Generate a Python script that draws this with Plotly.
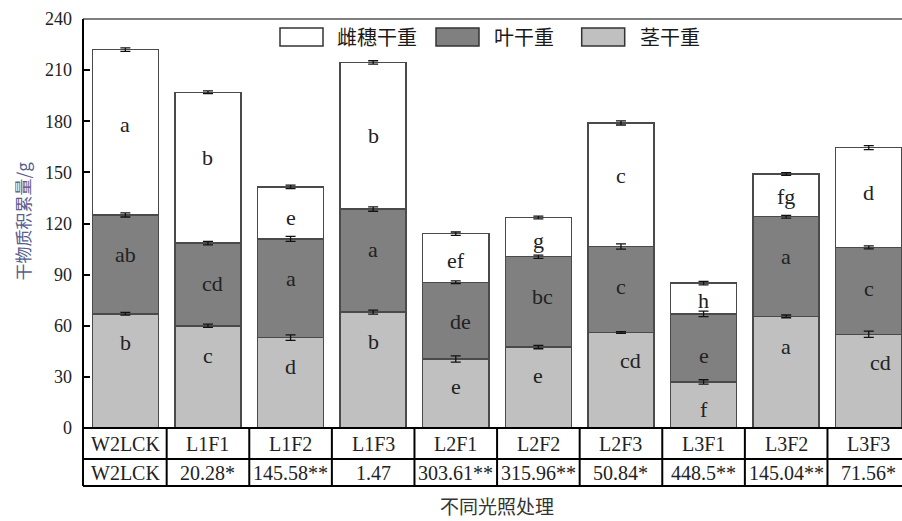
import numpy as np
import plotly.graph_objects as go

# ---- data -------------------------------------------------------------
treatments = ["W2LCK", "L1F1", "L1F2", "L1F3", "L2F1", "L2F2", "L2F3", "L3F1", "L3F2", "L3F3"]
f_values = ["W2LCK", "20.28*", "145.58**", "1.47", "303.61**", "315.96**",
            "50.84*", "448.5**", "145.04**", "71.56*"]

stem = [67, 60, 53, 68, 40.5, 47.5, 56, 27, 65.5, 55]            # 茎干重
leaf = [58, 48.5, 58, 60.5, 45, 53, 50.5, 40, 58.5, 51]          # 叶干重
panicle = [97, 88.5, 30.5, 86, 28.5, 23, 72.5, 18, 25, 58.5]     # 雌穗干重

stem_err = [0.8, 1.0, 1.6, 1.2, 1.8, 1.0, 0.5, 1.3, 0.8, 1.8]
leaf_err = [1.2, 1.0, 1.5, 1.3, 0.8, 1.0, 1.5, 1.6, 0.8, 0.9]
panicle_err = [1.0, 0.8, 1.0, 1.0, 1.0, 0.8, 1.2, 1.0, 0.8, 1.2]

stem_sig = ["b", "c", "d", "b", "e", "e", "cd", "f", "a", "cd"]
leaf_sig = ["ab", "cd", "a", "a", "de", "bc", "c", "e", "a", "c"]
panicle_sig = ["a", "b", "e", "b", "ef", "g", "c", "h", "fg", "d"]

# ---- label placement (value units on the y axis, pixel shifts in x) ----
stem_lab_y = [50.3, 42.6, 36, 51, 24.4, 31, 39.5, 11, 48, 38.4]
leaf_lab_y = [102, 85, 88, 105, 62.4, 77, 83, 42.6, 100.5, 82]
pan_lab_y = [178, 158.5, 123.8, 171.5, 98.3, 110.2, 148, 75, 135.6, 138]
stem_lab_dx = [0, 0, 0, 0, 0, 0, 10, 0, 0, 12]
leaf_lab_dx = [0, 5, 0, 0, 5, 4, 0, 0, 0, 0]
pan_lab_dx = [0, 0, 0, 0, 0, 0, 0, 0, 0, 0]

# ---- geometry ---------------------------------------------------------
W, H = 902, 521
PL, PT, PW, PH = 83, 19, 819, 409
X0 = -0.513
X1 = X0 + PW / 82.6


def px_x(px):
    return (px - PL) / PW


def px_y(py):
    return (PT + PH - py) / PH


def cat_x(v):
    return (v - X0) / (X1 - X0)


SERIF = "Liberation Serif"
CJK = "Noto Sans CJK SC"
TXT = "#222222"
EDGE = "#4a4a4a"

x = list(range(len(treatments)))
stem_a, leaf_a, pan_a = np.array(stem), np.array(leaf), np.array(panicle)
tops = [stem_a, stem_a + leaf_a, stem_a + leaf_a + pan_a]

fig = go.Figure()
for name, vals, col in [("茎干重", stem, "#c0c0c0"),
                        ("叶干重", leaf, "#808080"),
                        ("雌穗干重", panicle, "#ffffff")]:
    fig.add_trace(go.Bar(x=x, y=vals, name=name, width=0.8,
                         marker=dict(color=col, line=dict(color=EDGE, width=1.5)),
                         showlegend=False, hoverinfo="skip"))

# error bars at the top of every stacked segment
for top, err in zip(tops, [stem_err, leaf_err, panicle_err]):
    fig.add_trace(go.Scatter(x=x, y=top, mode="markers",
                             marker=dict(size=1, opacity=0),
                             error_y=dict(type="data", array=err, color="#111111",
                                          thickness=1.3, width=5),
                             showlegend=False, hoverinfo="skip"))

ann = []
# significance letters
for sig, ys, dxs in [(stem_sig, stem_lab_y, stem_lab_dx),
                     (leaf_sig, leaf_lab_y, leaf_lab_dx),
                     (panicle_sig, pan_lab_y, pan_lab_dx)]:
    for i, (s, yy, dx) in enumerate(zip(sig, ys, dxs)):
        ann.append(dict(x=i, y=yy, xref="x", yref="y", text=s, showarrow=False,
                        xshift=dx, xanchor="center", yanchor="middle",
                        font=dict(family=SERIF, size=22, color=TXT)))

# table below the axis
row1_y, row2_y = px_y(444), px_y(472.5)
for i in x:
    for txt, yy in [(treatments[i], row1_y), (f_values[i], row2_y)]:
        ann.append(dict(x=i, y=yy, xref="x", yref="paper", text=txt,
                        showarrow=False, xanchor="center", yanchor="middle",
                        font=dict(family=SERIF, size=20, color=TXT)))

shapes = []
line_k = dict(color="#000000", width=2)
# top frame line
shapes.append(dict(type="line", xref="paper", yref="paper", x0=0, x1=1, y0=1, y1=1,
                   line=dict(color="#555555", width=1.5)))
# left axis line down through the table
shapes.append(dict(type="line", xref="paper", yref="paper", x0=0, x1=0,
                   y0=1, y1=px_y(486), line=line_k))
# horizontal table lines
for py in [428, 459, 486]:
    shapes.append(dict(type="line", xref="paper", yref="paper", x0=0, x1=1,
                       y0=px_y(py), y1=px_y(py), line=line_k))
# vertical table lines
for i in range(len(treatments) - 1):
    xp = cat_x(i + 0.5)
    shapes.append(dict(type="line", xref="paper", yref="paper", x0=xp, x1=xp,
                       y0=px_y(428), y1=px_y(486), line=line_k))

# legend drawn by hand
legend_items = [("雌穗干重", "#ffffff", 280, 335),
                ("叶干重", "#808080", 436, 491.7),
                ("茎干重", "#c0c0c0", 581.7, 638)]
for label, col, bx, tx in legend_items:
    shapes.append(dict(type="rect", xref="paper", yref="paper",
                       x0=px_x(bx), x1=px_x(bx + 43), y0=px_y(46), y1=px_y(28),
                       fillcolor=col, line=dict(color="#333333", width=1.5)))
    ann.append(dict(x=px_x(tx), y=px_y(37), xref="paper", yref="paper", text=label,
                    showarrow=False, xanchor="left", yanchor="middle",
                    font=dict(family=CJK, size=20, color="#1a1a1a")))

# axis titles
ann.append(dict(x=px_x(21.5), y=px_y(221), xref="paper", yref="paper",
                text="干物质积累量/g", textangle=-90, showarrow=False,
                xanchor="center", yanchor="middle",
                font=dict(family=CJK, size=17, color="#55608f")))
ann.append(dict(x=px_x(497), y=px_y(506), xref="paper", yref="paper",
                text="不同光照处理", showarrow=False, borderpad=0,
                xanchor="center", yanchor="middle",
                font=dict(family=CJK, size=19, color="#333333")))

fig.update_layout(
    width=W, height=H,
    margin=dict(l=PL, r=W - PL - PW, t=PT, b=H - PT - PH, pad=0),
    barmode="stack", bargap=0.2,
    plot_bgcolor="white", paper_bgcolor="white",
    xaxis=dict(range=[X0, X1], showticklabels=False, showgrid=False, zeroline=False,
               showline=False, ticks="", fixedrange=True),
    yaxis=dict(range=[0, 240], tickvals=list(range(0, 241, 30)), showgrid=False,
               zeroline=False, showline=False, ticks="inside", ticklen=7,
               tickwidth=2, tickcolor="#000000",
               tickfont=dict(family=SERIF, size=18, color=TXT), ticklabelstandoff=10),
    shapes=shapes, annotations=ann,
)

fig.write_html("out.html")
